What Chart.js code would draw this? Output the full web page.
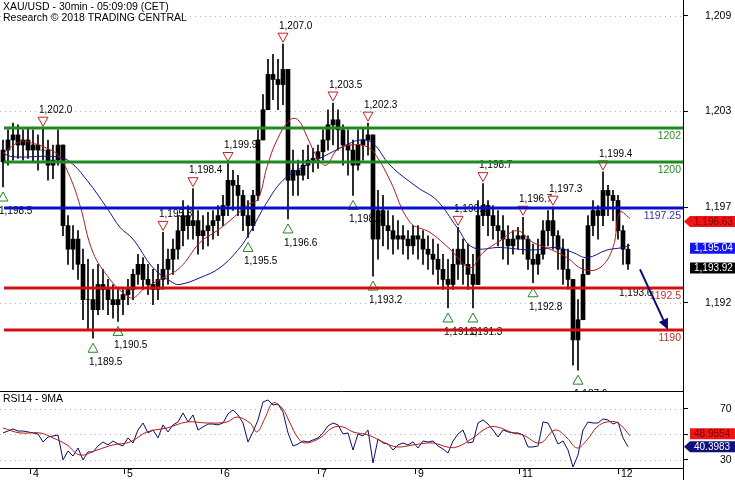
<!DOCTYPE html>
<html>
<head>
<meta charset="utf-8">
<title>XAU/USD 30min</title>
<script src="https://cdn.jsdelivr.net/npm/chart.js@4.4.0/dist/chart.umd.min.js"></script>
<style>
  html, body { margin: 0; padding: 0; background: #fff; }
  #wrap { position: relative; width: 735px; height: 480px; }
  #main { position: absolute; left: 0; top: 0; }
  #rsi  { position: absolute; left: 0; top: 391px; }
</style>
</head>
<body>
<div id="wrap">
  <canvas id="main" width="735" height="391"></canvas>
  <canvas id="rsi" width="735" height="89"></canvas>
</div>
<script>
// ── Data (bar index = one candle) ───────────────────────
const dayIdx    = [5.4, 24.2, 43.6, 63, 82.4, 103.2, 123];
const dayLabels = ["4", "5", "6", "7", "9", "11", "12"];

const yTickVals   = [1191.6, 1197.3, 1203.0, 1208.7];
const yTickLabels = ["1,192", "1,197", "1,203", "1,209"];
const rsiTickVals   = [30, 50, 70];
const rsiTickLabels = ["30", "", "70"];   // 50 sits behind the MA value box

const firstOpen = 1200.0;
const highs = [
  1201.3,1201.9,1202.3,1202.2,1201.9,1202.0,1201.9,1201.6,1202.0,1201.3,
  1201.0,1201.9,1201.0,1196.8,1196.2,1195.9,1194.8,1194.2,1193.6,1193.9,
  1193.6,1193.0,1192.7,1192.4,1192.4,1193.0,1193.6,1194.5,1194.3,1193.9,
  1193.6,1193.9,1195.8,1194.8,1195.4,1196.8,1197.7,1197.4,1198.4,1197.1,
  1196.8,1197.0,1197.1,1197.4,1198.0,1199.9,1199.5,1199.2,1198.3,1197.7,
  1198.3,1201.9,1204.0,1206.1,1206.4,1206.1,1207.0,1205.5,1200.7,1200.1,
  1200.7,1201.0,1200.8,1201.0,1201.9,1203.1,1203.5,1203.1,1202.2,1201.9,
  1201.3,1201.9,1202.0,1202.3,1201.6,1198.3,1198.0,1197.1,1196.8,1196.5,
  1196.2,1195.9,1196.2,1196.2,1195.9,1195.6,1195.4,1195.1,1194.5,1194.2,
  1194.8,1196.1,1195.4,1195.1,1194.5,1197.7,1198.7,1197.7,1197.4,1197.1,
  1196.8,1196.2,1195.9,1196.1,1196.7,1195.6,1195.1,1195.4,1196.5,1197.1,
  1197.3,1195.9,1195.4,1194.8,1193.0,1191.8,1194.2,1196.8,1197.7,1197.4,
  1199.4,1198.6,1198.3,1198.0,1196.2,1195.1
];
const lows = [
  1198.5,1199.8,1200.1,1200.2,1200.1,1200.2,1200.0,1199.5,1200.1,1198.9,
  1199.0,1199.8,1195.6,1193.9,1193.6,1193.0,1190.6,1190.0,1189.5,1190.9,
  1191.2,1190.9,1190.7,1190.5,1190.9,1191.5,1191.8,1192.7,1192.4,1192.1,
  1191.5,1191.8,1192.4,1192.7,1193.3,1194.2,1195.0,1195.4,1195.4,1194.5,
  1194.8,1195.0,1195.4,1195.6,1196.2,1196.8,1197.1,1196.8,1195.9,1195.5,
  1195.9,1197.7,1201.3,1203.1,1203.7,1203.1,1203.4,1196.6,1198.0,1198.0,
  1198.9,1199.0,1199.4,1199.6,1200.1,1200.7,1201.0,1200.7,1199.8,1199.2,
  1198.0,1199.5,1200.1,1200.4,1193.2,1194.2,1195.0,1194.8,1194.5,1194.8,
  1194.5,1194.2,1194.5,1194.2,1193.9,1193.6,1193.3,1192.7,1192.4,1191.3,
  1192.4,1193.0,1192.7,1192.4,1191.3,1192.7,1196.2,1195.6,1195.4,1195.0,
  1194.2,1193.9,1194.5,1194.8,1194.5,1193.6,1192.8,1193.3,1194.2,1195.0,
  1194.8,1193.6,1192.7,1192.4,1187.9,1187.6,1190.6,1193.3,1195.6,1195.4,
  1196.2,1196.8,1196.5,1195.4,1193.9,1193.6
];
const closes = [
  1200.7,1201.3,1201.6,1201.0,1201.3,1200.7,1201.0,1200.7,1200.7,1199.8,
  1200.1,1201.0,1196.2,1194.8,1195.4,1193.9,1191.8,1191.8,1191.2,1192.7,
  1192.4,1191.8,1191.5,1191.8,1192.1,1192.4,1193.3,1193.9,1193.0,1192.7,
  1192.4,1193.0,1193.6,1194.2,1194.8,1195.9,1196.8,1196.2,1196.5,1195.6,
  1195.9,1196.2,1196.5,1196.8,1197.4,1198.9,1198.6,1198.0,1196.8,1196.2,
  1198.0,1201.3,1203.1,1205.2,1204.9,1204.6,1205.5,1198.9,1199.5,1199.2,
  1199.8,1200.1,1200.2,1200.6,1201.3,1202.2,1202.5,1201.9,1201.0,1200.7,
  1199.8,1201.0,1201.3,1201.6,1195.4,1197.1,1196.2,1195.9,1195.4,1195.6,
  1195.4,1195.0,1195.6,1195.4,1194.8,1194.5,1194.2,1193.6,1193.0,1192.7,
  1193.9,1194.8,1193.9,1193.3,1192.7,1196.8,1197.4,1196.8,1196.2,1195.9,
  1195.4,1195.0,1195.4,1195.6,1195.4,1194.2,1193.9,1194.5,1195.9,1196.5,
  1195.6,1194.8,1193.6,1193.0,1189.4,1190.6,1193.3,1196.2,1197.1,1196.8,
  1198.3,1198.0,1197.7,1195.9,1194.8,1193.92
];

// moving averages
const redIdx = [0,3.4,6,8.8,11,13.4,15.4,18,21.4,24,26,28,31.4,35.4,39.4,42.8,45.4,48.8,51,52.8,
  54.8,57.4,59,60.8,62.8,64.6,66.8,69.4,72.8,74.8,77.4,81.4,85.4,89.4,93.4,96,99.4,102.8,106,109.4,
  112.8,116,119.4,122,123.4,125.4];
const redVal = [1200.5,1201.2,1201.1,1200.8,1200.4,1199.1,1197.4,1194.6,1193.0,1192.2,
  1191.9,1192.4,1193.0,1193.7,1195.2,1195.9,1196.5,1197.4,1197.8,1199.7,
  1201.3,1202.5,1202.5,1201.5,1200.3,1199.8,1200.7,1201.0,1200.9,1200.3,
  1198.9,1196.4,1195.8,1194.8,1193.7,1194.6,1195.3,1195.9,1195.2,1194.8,
  1194.3,1193.6,1193.7,1194.9,1197.0,1196.63];
const blueIdx = [0,2,10.8,13.4,16.8,20.8,23.4,26,30,34,35.4,39.4,43.4,47.4,49.4,52.8,56,60,64,68,
  71.4,74,77.4,82.8,86.8,90.8,94,99.4,106,110.8,114,116.8,120.8,124,125.4];
const blueVal = [1200.5,1200.3,1200.3,1200.0,1198.9,1197.25,1196.1,1195.4,1193.7,1192.8,
  1192.7,1193.1,1193.7,1194.9,1195.8,1197.6,1198.9,1199.7,1200.3,1200.9,
  1201.3,1201.1,1199.8,1198.5,1197.7,1196.1,1194.9,1194.9,1194.75,1194.9,
  1194.6,1194.3,1194.75,1194.9,1195.04];

// RSI14 and its 9MA
const rsiVal = [
  51.2,52.7,54.3,52.7,52.7,52.0,51.2,50.4,44.1,48.0,
  48.8,49.6,30.0,37.0,33.1,39.4,30.0,36.3,36.3,41.0,
  44.1,41.8,44.9,42.5,41.0,47.3,43.3,53.5,59.0,51.2,
  53.5,47.3,57.5,52.0,57.5,59.8,66.9,59.8,65.3,53.5,
  55.9,58.2,58.2,57.5,59.0,66.1,69.2,65.3,59.0,44.1,
  52.0,61.4,75.5,77.1,73.1,73.9,67.6,51.2,41.0,42.5,
  44.9,44.1,45.7,47.3,51.2,56.7,59.0,57.5,50.4,51.2,
  37.8,50.4,48.8,53.5,27.6,46.5,43.3,42.5,37.8,41.8,
  43.3,41.8,44.1,39.4,44.9,44.1,44.9,41.0,38.6,35.5,
  44.9,50.4,53.5,43.3,44.1,59.0,61.4,58.2,53.5,48.0,
  53.5,52.0,51.2,51.2,49.6,40.2,40.2,41.0,59.8,59.0,
  51.2,42.5,44.9,37.8,24.5,33.9,53.5,59.8,59.0,59.0,
  62.2,61.4,58.2,59.8,47.3,40.3983
];
const rsiMaIdx = [0,3.4,7.4,10,12.8,15.4,18.8,22,25.4,28.8,32.8,36.8,40.8,44.8,46.8,49.4,50.8,52.4,54,55.8,
  57.4,59,60.4,63.4,65.8,68,70,73,76,78.8,82,86,88.8,90.8,94,96.8,98.8,102,104,107.4,
  110.4,112.8,114.8,116.8,118.8,120.8,123,125.4];
const rsiMaVal = [55.1,51.2,51.2,47.3,41.8,33.9,37.8,41.8,44.1,52.0,55.1,59.8,59.0,59.8,63.7,59.0,52.0,62.9,74.7,70.8,
  59.0,47.3,43.3,47.3,55.1,55.9,52.0,49.6,44.1,40.2,41.8,43.3,40.2,40.2,47.3,55.1,55.9,51.2,49.6,43.3,
  53.5,47.3,39.4,45.7,55.9,59.8,59.0,48.9554];

// swing highs / lows ("T" = label only)
const pivotIdx  = [8, 32, 38, 45, 56, 66, 73, 91, 96, 104, 110, 120,
                   0, 18, 23, 49, 57, 70, 74, 89, 94, 106, 115, 124];
const pivotVal  = [1202.0, 1195.8, 1198.4, 1199.9, 1207.0, 1203.5, 1202.3, 1196.1, 1198.7, 1196.7, 1197.3, 1199.4,
                   1198.5, 1189.5, 1190.5, 1195.5, 1196.6, 1198.0, 1193.2, 1191.3, 1191.3, 1192.8, 1187.6, 1193.6];
const pivotKind = ["H","H","H","H","H","H","H","H","H","H","H","H",
                   "L","L","L","L","L","L","L","L","L","L","L","T"];

// key levels
const levelVals   = [1202, 1200, 1197.25, 1192.5, 1190];
const levelTexts  = ["1202", "1200", "1197.25", "1192.5", "1190"];
const levelColors = ["#1f8a1f", "#1f8a1f", "#0a10c8", "#d21010", "#d21010"];
const levelTxtClr = ["#2a8a2a", "#2a8a2a", "#3535a5", "#c03030", "#c03030"];

const arrowFrom = [127.4, 1193.6];
const arrowTo   = [133.0, 1190.0];

const lastClose  = 1193.92;
const lastRedMa  = 1196.63;
const lastBlueMa = 1195.04;

// ── Helpers ──────────────────────────────────────────────
const FONT = "Arial, 'Liberation Sans', sans-serif";
Chart.defaults.font.family = FONT;
Chart.defaults.font.size = 10.5;
Chart.defaults.color = "#000";

const opens = [firstOpen].concat(closes.slice(0, -1));
const fmt1 = function (v) {
  return v.toLocaleString("en-US", { minimumFractionDigits: 1, maximumFractionDigits: 1 });
};

// right axis: fixed width, no extra label padding above/below the plot
function fitRightAxis(s) {
  s.width = 52;
  s.paddingTop = 0; s.paddingBottom = 0;
}

function triangle(ctx, x, y, up, color) {
  ctx.beginPath();
  if (up) { ctx.moveTo(x, y - 5); ctx.lineTo(x + 5, y + 4); ctx.lineTo(x - 5, y + 4); }
  else    { ctx.moveTo(x - 5, y - 4); ctx.lineTo(x + 5, y - 4); ctx.lineTo(x, y + 5); }
  ctx.closePath();
  ctx.fillStyle = "#fff"; ctx.fill();
  ctx.strokeStyle = color; ctx.lineWidth = 1; ctx.stroke();
}

function valueBox(ctx, left, cy, text, bg, fg, arrow) {
  const x0 = left + 7, x1 = 735, h = 11;
  ctx.fillStyle = bg;
  ctx.beginPath();
  ctx.moveTo(x0, cy - h / 2); ctx.lineTo(x1, cy - h / 2);
  ctx.lineTo(x1, cy + h / 2); ctx.lineTo(x0, cy + h / 2);
  if (arrow) ctx.lineTo(x0 - 6, cy);
  ctx.closePath(); ctx.fill();
  ctx.fillStyle = fg;
  ctx.font = "10px " + FONT;
  ctx.textAlign = "left"; ctx.textBaseline = "middle";
  ctx.fillText(text, x0 + 4, cy + 0.5);
}

function dottedGrid(ctx, area, yScale, vals) {
  ctx.save();
  ctx.strokeStyle = "#b0b0b0"; ctx.lineWidth = 1; ctx.setLineDash([1, 4]);
  vals.forEach(function (v) {
    const py = Math.round(yScale.getPixelForValue(v)) + 0.5;
    ctx.beginPath(); ctx.moveTo(area.left, py); ctx.lineTo(area.right, py); ctx.stroke();
  });
  ctx.restore();
}

// ── Main price panel ─────────────────────────────────────
const mainOverlay = {
  id: "mainOverlay",
  beforeDatasetsDraw(chart) {
    const ctx = chart.ctx, a = chart.chartArea, x = chart.scales.x, y = chart.scales.y;
    dottedGrid(ctx, a, y, yTickVals);

    ctx.save();
    ctx.font = "10px " + FONT;
    ctx.textAlign = "left"; ctx.textBaseline = "middle";
    pivotIdx.forEach(function (idx, i) {
      const px = x.getPixelForValue(idx), py = y.getPixelForValue(pivotVal[i]);
      const kind = pivotKind[i];
      if (kind === "H") {
        triangle(ctx, px, py - 7, false, "#c81e1e");
        ctx.fillStyle = "#000"; ctx.fillText(fmt1(pivotVal[i]), px - 4, py - 18);
      } else {
        if (kind === "L") triangle(ctx, px, py + 10, true, "#1e8a1e");
        ctx.fillStyle = "#000"; ctx.fillText(fmt1(pivotVal[i]), px - 4, py + 24);
      }
    });
    ctx.restore();
  },
  afterDatasetsDraw(chart) {
    const ctx = chart.ctx, a = chart.chartArea, x = chart.scales.x, y = chart.scales.y;
    ctx.save();
    // key levels
    levelVals.forEach(function (v, i) {
      const py = Math.round(y.getPixelForValue(v));
      ctx.strokeStyle = levelColors[i]; ctx.lineWidth = 3;
      ctx.beginPath(); ctx.moveTo(a.left + 4, py); ctx.lineTo(a.right, py); ctx.stroke();
      ctx.fillStyle = levelTxtClr[i];
      ctx.font = "10.5px " + FONT;
      ctx.textAlign = "right"; ctx.textBaseline = "middle";
      ctx.fillText(levelTexts[i], a.right - 2, py + 8);
    });
    // projection arrow
    const x0 = x.getPixelForValue(arrowFrom[0]), y0 = y.getPixelForValue(arrowFrom[1]);
    const x1 = x.getPixelForValue(arrowTo[0]),   y1 = y.getPixelForValue(arrowTo[1]);
    const ang = Math.atan2(y1 - y0, x1 - x0);
    const bx = x1 - 11 * Math.cos(ang), by = y1 - 11 * Math.sin(ang);
    ctx.strokeStyle = "#0a0a78"; ctx.lineWidth = 2;
    ctx.beginPath(); ctx.moveTo(x0, y0); ctx.lineTo(bx, by); ctx.stroke();
    ctx.fillStyle = "#0a0a78";
    ctx.beginPath();
    ctx.moveTo(x1, y1);
    ctx.lineTo(bx + 5 * Math.sin(ang), by - 5 * Math.cos(ang));
    ctx.lineTo(bx - 5 * Math.sin(ang), by + 5 * Math.cos(ang));
    ctx.closePath(); ctx.fill();
    ctx.restore();
  },
  afterDraw(chart) {
    const ctx = chart.ctx, a = chart.chartArea, y = chart.scales.y;
    ctx.save();
    ctx.fillStyle = "#000";
    ctx.font = "10.5px " + FONT;
    ctx.textAlign = "left"; ctx.textBaseline = "top";
    ctx.fillText("XAU/USD - 30min - 05:09:09 (CET)", 3, 2);
    ctx.fillText("Research \u00a9 2018 TRADING CENTRAL", 3, 13);

    valueBox(ctx, a.right, y.getPixelForValue(lastRedMa) + 3, "1,196.63", "#f01414", "#7a0000", true);
    valueBox(ctx, a.right, y.getPixelForValue(lastBlueMa) + 3, "1,195.04", "#1414f0", "#fff", false);
    valueBox(ctx, a.right, y.getPixelForValue(lastClose) + 4, "1,193.92", "#000", "#fff", false);
    ctx.restore();
  }
};

new Chart(document.getElementById("main"), {
  type: "bar",
  data: {
    datasets: [
      {
        type: "line", order: 0,
        data: redIdx.map(function (v, i) { return { x: v, y: redVal[i] }; }),
        borderColor: "#b01c1c", borderWidth: 1, pointRadius: 0, tension: 0.4
      },
      {
        type: "line", order: 0,
        data: blueIdx.map(function (v, i) { return { x: v, y: blueVal[i] }; }),
        borderColor: "#12128a", borderWidth: 1, pointRadius: 0, tension: 0.4
      },
      {
        // candle bodies (open = previous close)
        type: "bar", order: 1, grouped: false,
        data: closes.map(function (c, i) { return { x: i, y: [opens[i], c] }; }),
        backgroundColor: "#000", barThickness: 4
      },
      {
        // high-low wicks
        type: "bar", order: 2, grouped: false,
        data: highs.map(function (h, i) { return { x: i, y: [lows[i], h] }; }),
        backgroundColor: "#000", barThickness: 1
      }
    ]
  },
  options: {
    responsive: false,
    animation: false,
    events: [],
    layout: { padding: 0 },
    plugins: { legend: { display: false }, tooltip: { enabled: false } },
    scales: {
      x: { type: "linear", min: -0.6, max: 136, offset: false, display: false },
      y: {
        position: "right", min: 1186.36, max: 1209.63,
        afterBuildTicks: function (s) { s.ticks = yTickVals.map(function (v) { return { value: v }; }); },
        afterFit: fitRightAxis,
        ticks: { padding: 17, callback: function (v, i) { return yTickLabels[i]; } },
        grid: { drawOnChartArea: false, tickLength: 5, tickColor: "#000" },
        border: { color: "#000", width: 1 }
      }
    }
  },
  plugins: [mainOverlay]
});

// ── RSI panel ────────────────────────────────────────────
const rsiOverlay = {
  id: "rsiOverlay",
  beforeDatasetsDraw(chart) {
    const ctx = chart.ctx, a = chart.chartArea, y = chart.scales.y;
    dottedGrid(ctx, a, y, rsiTickVals);
    ctx.save();
    ctx.strokeStyle = "#000"; ctx.lineWidth = 1;
    ctx.beginPath(); ctx.moveTo(a.left, a.top + 0.5); ctx.lineTo(a.right, a.top + 0.5); ctx.stroke();
    ctx.beginPath(); ctx.moveTo(a.right + 0.5, a.bottom); ctx.lineTo(a.right + 0.5, chart.height); ctx.stroke();
    ctx.fillStyle = "#000";
    ctx.font = "10.5px " + FONT;
    ctx.textAlign = "left"; ctx.textBaseline = "top";
    ctx.fillText("RSI14 - 9MA", 3, 3);
    ctx.restore();
  },
  afterDraw(chart) {
    const ctx = chart.ctx, a = chart.chartArea, y = chart.scales.y;
    ctx.save();
    valueBox(ctx, a.right, y.getPixelForValue(rsiMaVal[rsiMaVal.length - 1]) - 2, "48.9554", "#f01414", "#7a0000", false);
    valueBox(ctx, a.right, y.getPixelForValue(rsiVal[rsiVal.length - 1]), "40.3983", "#10107a", "#fff", true);
    ctx.restore();
  }
};

new Chart(document.getElementById("rsi"), {
  type: "line",
  data: {
    datasets: [
      {
        data: rsiMaIdx.map(function (v, i) { return { x: v, y: rsiMaVal[i] }; }),
        borderColor: "#b01c1c", borderWidth: 1, pointRadius: 0, tension: 0.4
      },
      {
        data: rsiVal.map(function (v, i) { return { x: i, y: v }; }),
        borderColor: "#0c0c6e", borderWidth: 1, pointRadius: 0, tension: 0
      }
    ]
  },
  options: {
    responsive: false,
    animation: false,
    events: [],
    layout: { padding: 0 },
    plugins: { legend: { display: false }, tooltip: { enabled: false } },
    scales: {
      x: {
        type: "linear", min: -0.6, max: 136, offset: false,
        afterBuildTicks: function (s) { s.ticks = dayIdx.map(function (v) { return { value: v }; }); },
        afterFit: function (s) { s.height = 12; s.paddingLeft = 0; s.paddingRight = 0; },
        ticks: {
          align: "start", padding: -6, maxRotation: 0, autoSkip: false,
          callback: function (v, i) { return " " + dayLabels[i]; }
        },
        grid: { drawOnChartArea: false, tickLength: 6, tickColor: "#000" },
        border: { color: "#000", width: 1 }
      },
      y: {
        position: "right", min: 23.7, max: 84.1,
        afterBuildTicks: function (s) { s.ticks = rsiTickVals.map(function (v) { return { value: v }; }); },
        afterFit: fitRightAxis,
        ticks: { padding: 32, callback: function (v, i) { return rsiTickLabels[i]; } },
        grid: { drawOnChartArea: false, tickLength: 5, tickColor: "#000" },
        border: { color: "#000", width: 1 }
      }
    }
  },
  plugins: [rsiOverlay]
});
</script>
</body>
</html>
